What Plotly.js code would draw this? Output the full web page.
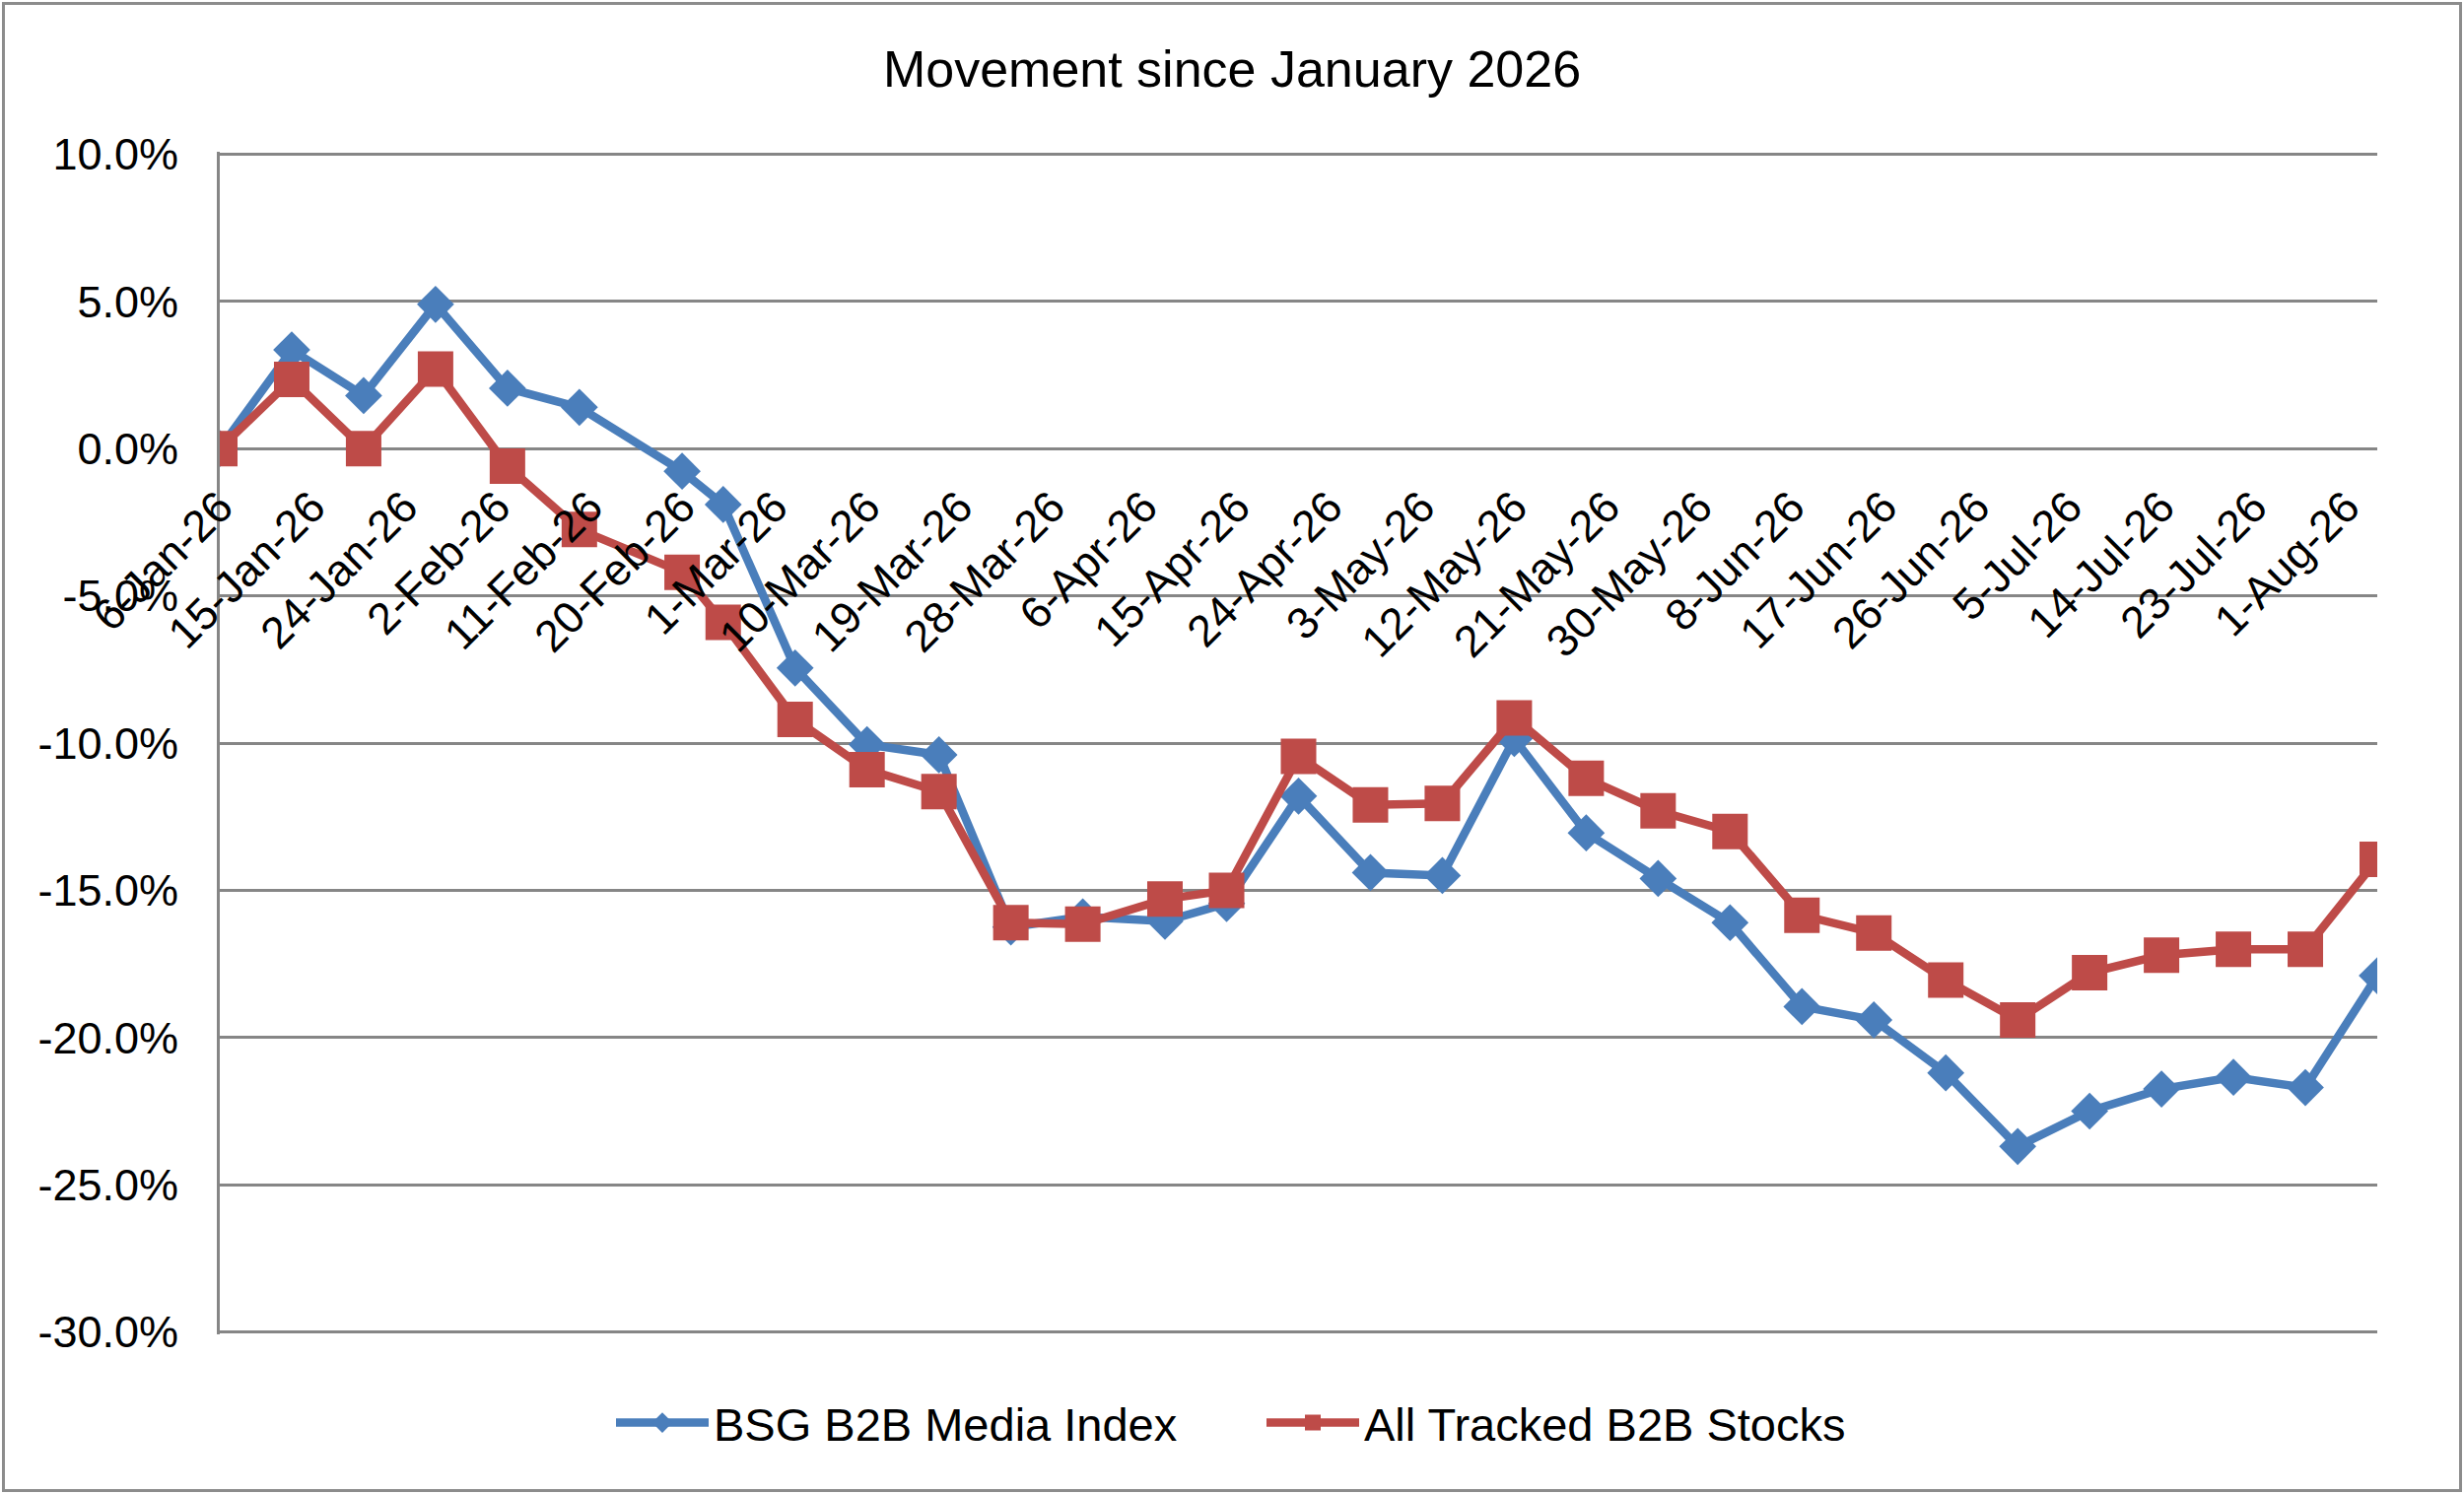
<!DOCTYPE html>
<html>
<head>
<meta charset="utf-8">
<script src="https://cdn.plot.ly/plotly-3.0.1.min.js"></script>
<style>
  body { margin: 0; background: #fff; }
  #wrap { position: relative; width: 2500px; height: 1516px; }
  #chart { width: 2500px; height: 1516px; }
  #frame { position: absolute; left: 2px; top: 2px; right: 2px; bottom: 2px;
           border: 3px solid #8c8c8c; pointer-events: none; }
</style>
</head>
<body>
<div id="wrap">
  <div id="chart"></div>
  <div id="frame"></div>
</div>
<script>
// weekly observation dates (a few off-cycle ones in Feb / Apr)
var dates = ['2026-01-06', '2026-01-13', '2026-01-20', '2026-01-27', '2026-02-03', '2026-02-10',
             '2026-02-20', '2026-02-24', '2026-03-03', '2026-03-10', '2026-03-17', '2026-03-24',
             '2026-03-31', '2026-04-08', '2026-04-14', '2026-04-21', '2026-04-28', '2026-05-05',
             '2026-05-12', '2026-05-19', '2026-05-26', '2026-06-02', '2026-06-09', '2026-06-16',
             '2026-06-23', '2026-06-30', '2026-07-07', '2026-07-14', '2026-07-21', '2026-07-28',
             '2026-08-04'];

// movement in percent
var bsgIndex = [0.0, 3.35, 1.8, 4.9, 2.05, 1.4,
                -0.77, -1.9, -7.45, -10.05, -10.4, -16.25,
                -15.9, -16.05, -15.45, -11.8, -14.4, -14.5,
                -9.85, -13.05, -14.6, -16.1, -18.95, -19.4,
                -21.2, -23.7, -22.5, -21.75, -21.35, -21.7,
                -17.9];

var allTracked = [0.0, 2.35, 0.0, 2.7, -0.6, -2.75,
                  -4.2, -5.9, -9.2, -10.9, -11.65, -16.1,
                  -16.15, -15.3, -15.0, -10.45, -12.1, -12.05,
                  -9.15, -11.2, -12.3, -13.0, -15.85, -16.45,
                  -18.05, -19.4, -17.8, -17.2, -17.0, -17.0,
                  -13.95];

// y axis ticks (percent) and their labels, Excel style with a plain hyphen
var yTicks = [10, 5, 0, -5, -10, -15, -20, -25, -30];
var yTickText = ['10.0%', '5.0%', '0.0%', '-5.0%', '-10.0%', '-15.0%', '-20.0%', '-25.0%', '-30.0%'];

var seriesNames = ['BSG B2B Media Index', 'All Tracked B2B Stocks'];
var chartTitle = 'Movement since January 2026';

function pct(arr) {
    return arr.map(function (v) { return v / 100; });
}

var font = 'Liberation Sans, Arial, sans-serif';
var grid = '#868686';

var data = [
    {
        x: dates, y: pct(bsgIndex),
        name: seriesNames[0],
        type: 'scatter', mode: 'lines+markers',
        line: {color: '#4A7EBB', width: 8.5},
        marker: {symbol: 'diamond', size: 29, color: '#4A7EBB', line: {width: 0}}
    },
    {
        x: dates, y: pct(allTracked),
        name: seriesNames[1],
        type: 'scatter', mode: 'lines+markers',
        line: {color: '#BE4B48', width: 8.5},
        marker: {symbol: 'square', size: 36, color: '#BE4B48', line: {width: 0}}
    }
];

var layout = {
    width: 2500, height: 1516, autosize: false,
    paper_bgcolor: '#fff', plot_bgcolor: '#fff',
    margin: {l: 223, r: 88, t: 154, b: 162},
    font: {family: font, color: '#000', size: 45},
    title: {
        text: chartTitle,
        font: {family: font, size: 52, color: '#000'},
        xref: 'container', x: 0.5, xanchor: 'center',
        yref: 'container', y: 0.954, yanchor: 'middle'
    },
    xaxis: {
        type: 'date',
        range: ['2026-01-06', '2026-08-04'],
        tick0: '2026-01-06', dtick: 9 * 86400000,
        tickformat: '%-d-%b-%y',
        tickangle: -45,
        tickfont: {size: 45},
        showgrid: false, zeroline: false, showline: false,
        anchor: 'free', position: 0.75,
        ticks: '', ticklabelstandoff: 24
    },
    yaxis: {
        range: [-0.3008, 0.1008],
        tickmode: 'array',
        tickvals: pct(yTicks),
        ticktext: yTickText,
        tickfont: {size: 45},
        showgrid: true, gridcolor: grid, gridwidth: 3,
        zeroline: false,
        showline: true, linecolor: grid, linewidth: 3,
        ticks: '', ticklabelstandoff: 30
    },
    showlegend: true,
    legend: {
        orientation: 'h',
        xref: 'container', x: 0.248, xanchor: 'left',
        yref: 'container', y: 0.0475, yanchor: 'middle',
        font: {family: font, size: 47, color: '#000'},
        itemwidth: 94,
        entrywidth: 551, entrywidthmode: 'pixels',
        bgcolor: 'rgba(0,0,0,0)'
    }
};

Plotly.newPlot('chart', data, layout, {displayModeBar: false, staticPlot: true});
</script>
</body>
</html>
